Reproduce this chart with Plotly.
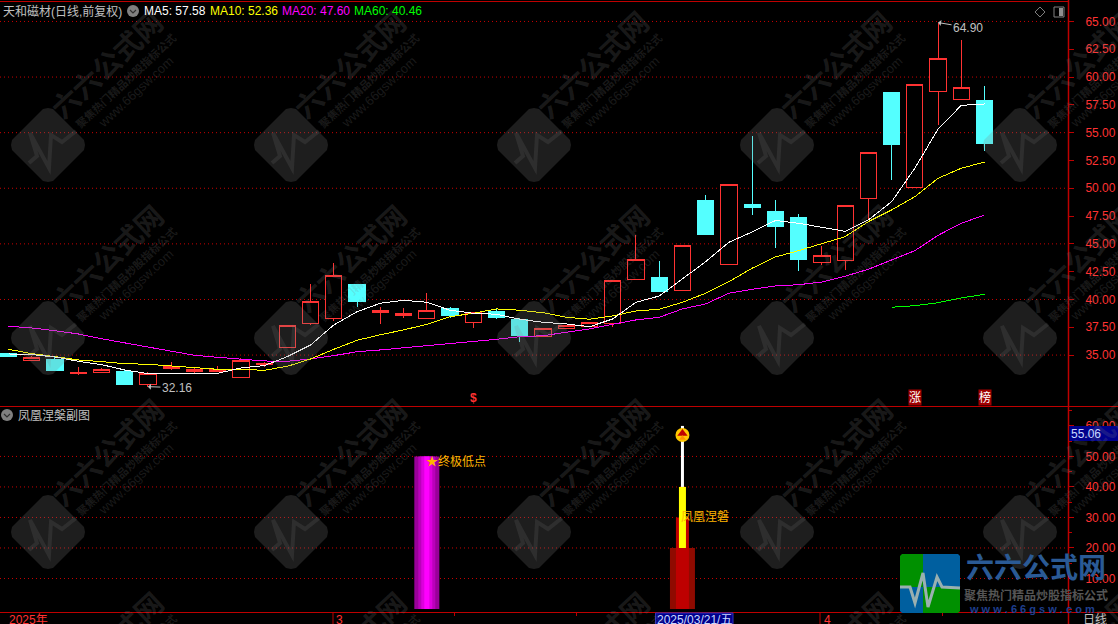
import plotly.graph_objects as go

# daily bars
CANDLE_IDX = list(range(43))
OPEN = [35.16, 34.50, 34.56, 33.38, 33.42, 33.54, 32.34, 33.75, 33.51, 33.48, 32.97, 34.11, 35.70, 37.86, 38.31,
        41.39, 38.81, 38.54, 38.27, 39.15, 37.91, 38.94, 38.16, 36.69, 37.37, 37.55, 37.82, 41.78, 42.02, 40.79,
        48.86, 43.13, 48.50, 47.87, 47.33, 43.31, 43.49, 49.06, 58.57, 50.09, 58.72, 58.00, 57.85]
HIGH = [35.16, 34.95, 34.83, 33.90, 33.84, 33.75, 33.45, 34.35, 33.81, 34.05, 34.71, 34.41, 37.68, 41.39, 43.26,
        41.39, 39.32, 39.24, 40.58, 39.32, 38.81, 39.17, 38.36, 37.41, 37.68, 37.95, 41.73, 45.80, 43.46, 44.87,
        49.40, 50.36, 54.70, 48.95, 47.69, 44.81, 48.41, 53.24, 58.57, 59.35, 64.90, 63.34, 59.20]
LOW = [34.86, 34.50, 33.57, 33.21, 33.42, 32.31, 32.16, 33.66, 33.36, 33.45, 32.97, 33.96, 35.70, 37.71, 38.09,
       39.32, 37.80, 38.36, 38.27, 38.36, 37.46, 38.25, 36.18, 36.69, 37.37, 37.55, 37.55, 41.78, 40.65, 40.79,
       45.80, 43.13, 47.60, 44.66, 42.53, 43.10, 42.65, 47.24, 50.75, 50.09, 55.70, 58.00, 53.38]
CLOSE = [34.86, 34.74, 33.57, 33.45, 33.72, 32.31, 33.36, 33.93, 33.66, 33.72, 34.53, 34.24, 37.68, 39.80, 42.18,
         39.86, 38.97, 38.76, 39.03, 38.54, 38.81, 38.34, 36.72, 37.41, 37.68, 37.95, 41.73, 43.61, 40.76, 44.87,
         45.80, 50.36, 48.23, 46.55, 43.55, 43.97, 48.41, 53.24, 53.92, 59.35, 61.65, 59.08, 54.01]

MA5 = [35.10, 35.04, 34.83, 34.44, 34.14, 33.66, 33.33, 33.36, 33.36, 33.36, 33.84, 34.05, 34.86, 35.91, 37.71,
       38.90, 39.66, 39.93, 39.75, 39.03, 38.76, 38.67, 38.22, 37.95, 37.80, 37.55, 38.25, 39.75, 40.31, 41.84,
       43.40, 45.14, 46.07, 47.10, 46.85, 46.49, 46.13, 47.15, 48.79, 51.80, 55.33, 57.46, 57.58]
MA10 = [35.52, 35.13, 34.86, 34.56, 34.41, 34.23, 34.17, 34.02, 33.87, 33.72, 33.72, 33.63, 33.99, 34.65, 35.52,
        36.33, 36.83, 37.26, 37.77, 38.45, 38.76, 39.15, 39.03, 38.81, 38.40, 38.22, 38.52, 38.97, 39.12, 39.75,
        40.56, 41.60, 42.81, 43.82, 44.39, 45.05, 45.65, 47.00, 48.05, 49.24, 50.90, 51.80, 52.36]
MA20 = [37.59, 37.44, 37.19, 36.90, 36.47, 36.11, 35.75, 35.34, 34.98, 34.80, 34.62, 34.47, 34.44, 34.65, 34.95,
        35.30, 35.46, 35.64, 35.84, 36.06, 36.24, 36.42, 36.65, 36.74, 37.05, 37.35, 37.77, 38.16, 38.40, 39.15,
        39.60, 40.56, 40.92, 41.21, 41.33, 41.57, 42.09, 42.72, 43.55, 44.39, 45.77, 46.85, 47.60]
MA60_IDX = [38, 39, 40, 41, 42]
MA60 = [39.30, 39.44, 39.71, 40.14, 40.46]

MAIN_TICKS = [35, 37.5, 40, 42.5, 45, 47.5, 50, 52.5, 55, 57.5, 60, 62.5, 65]
MAIN_GRID = [35, 40, 45, 50, 55, 60, 65]
SUB_TICKS = [10, 20, 30, 40, 50, 60]
SUB_GRID = [10, 20, 30, 40, 50]

# sub chart sticks: x index, bottom, top
LOW_STICK = [18, 0, 50]
PHOENIX_IDX = 29
PHOENIX_BOTTOM = [0, 0, 20, 40]
PHOENIX_TOP = [20, 30, 40, 60]
PHOENIX_MARK = 57

MA_LABELS = [("MA5: 57.58", "#FFFFFF", 143), ("MA10: 52.36", "#FFFF00", 209),
             ("MA20: 47.60", "#FF00FF", 281), ("MA60: 40.46", "#00FF00", 353)]

RED = "#FF3232"
LINE_RED = "#BE0000"
CYAN = "#54FFFF"
FONT = "Liberation Sans, Noto Sans CJK SC"
MARK = "rgba(128,128,128,0.2)"
PITCH = 23.24

W, H = 1118, 624
L_AXIS, T_PLOT, B_PLOT = 1068, 5, 612


def px(x):
    return x / L_AXIS


def py(y):
    return (B_PLOT - y) / (B_PLOT - T_PLOT)


def path(points, close=True):
    s = "M " + " L ".join(f"{px(x):.5f} {py(y):.5f}" for x, y in points)
    return s + (" Z" if close else "")


def rotated_square(cx, cy):
    # rounded square turned on its corner
    a = 37
    return [(cx - a + 1, cy - 5), (cx - 5, cy - a + 1), (cx, cy - a), (cx + 5, cy - a + 1),
            (cx + a - 1, cy - 5), (cx + a, cy), (cx + a - 1, cy + 5), (cx + 5, cy + a - 1), (cx, cy + a),
            (cx - 5, cy + a - 1), (cx - a + 1, cy + 5), (cx - a, cy)]


shapes = []
annotations = []


def text(x, y, s, color="#C0C0C0", size=12, anchor="left", **kw):
    annotations.append(dict(x=px(x), y=py(y), xref="paper", yref="paper", text=s, showarrow=False,
                            xanchor=anchor, yanchor="middle", font=dict(color=color, size=size, family=FONT),
                            borderpad=0, **kw))


fig = go.Figure()

fig.add_trace(go.Candlestick(
    x=CANDLE_IDX, open=OPEN, high=HIGH, low=LOW, close=CLOSE,
    increasing=dict(line=dict(color=RED, width=1), fillcolor="#000000"),
    decreasing=dict(line=dict(color=CYAN, width=1), fillcolor=CYAN),
    whiskerwidth=0, xaxis="x", yaxis="y"))

for values, color in ((MA20, "#FF00FF"), (MA10, "#FFFF00"), (MA5, "#FFFFFF")):
    fig.add_trace(go.Scatter(x=CANDLE_IDX, y=values, mode="lines", line=dict(color=color, width=1),
                             xaxis="x", yaxis="y"))
fig.add_trace(go.Scatter(x=MA60_IDX, y=MA60, mode="lines", line=dict(color="#00FF00", width=1),
                         xaxis="x", yaxis="y"))

# purple stick, nested for the gradient
for width, color in ((25, "#990099"), (17, "#BB00BB"), (11, "#DD00DD"), (5, "#FF00FF")):
    fig.add_trace(go.Bar(x=[LOW_STICK[0]], y=[LOW_STICK[2] - LOW_STICK[1]], base=[LOW_STICK[1]],
                         width=[width / PITCH], marker=dict(color=color, line=dict(width=0)),
                         xaxis="x2", yaxis="y2"))

for bottom, top, width, color in zip(PHOENIX_BOTTOM, PHOENIX_TOP, (25, 13, 7, 3),
                                     ("#8F0A00", "#BE0000", "#FFFF00", "#FFFFFF")):
    fig.add_trace(go.Bar(x=[PHOENIX_IDX], y=[top - bottom], base=[bottom], width=[width / PITCH],
                         marker=dict(color=color, line=dict(width=0)), xaxis="x2", yaxis="y2"))

fig.add_trace(go.Scatter(x=[PHOENIX_IDX], y=[PHOENIX_MARK], mode="markers",
                         marker=dict(symbol="circle", size=14, color="#FFC800"), xaxis="x2", yaxis="y2"))
fig.add_trace(go.Scatter(x=[PHOENIX_IDX], y=[PHOENIX_MARK + 0.5], mode="markers",
                         marker=dict(symbol="triangle-up", size=9, color="#C00000"), xaxis="x2", yaxis="y2"))
fig.add_trace(go.Scatter(x=[PHOENIX_IDX], y=[PHOENIX_MARK - 1], mode="markers",
                         marker=dict(symbol="triangle-up", size=6, color="#FF9000"), xaxis="x2", yaxis="y2"))

# dotted grid
dots = dict(color="#C80000", width=1, dash="1px,3px")
for v in MAIN_GRID:
    shapes.append(dict(type="line", xref="paper", yref="y", x0=0, x1=1, y0=v, y1=v, line=dots, layer="below"))
for v in SUB_GRID:
    shapes.append(dict(type="line", xref="paper", yref="y2", x0=0, x1=1, y0=v, y1=v, line=dots, layer="below"))

# frame lines
for y, x1 in ((1.5, L_AXIS), (406.5, W), (612.5, W)):
    shapes.append(dict(type="line", xref="paper", yref="paper", x0=0, x1=px(x1), y0=py(y), y1=py(y),
                       line=dict(color=LINE_RED, width=1)))
shapes.append(dict(type="line", xref="paper", yref="paper", x0=px(L_AXIS + 0.5), x1=px(L_AXIS + 0.5),
                   y0=py(0), y1=py(624), line=dict(color=LINE_RED, width=1.5)))
for x in (333, 820):
    shapes.append(dict(type="line", xref="paper", yref="paper", x0=px(x), x1=px(x), y0=py(612), y1=py(624),
                       line=dict(color=LINE_RED, width=1)))

# watermark tiles
for cx in (48, 291, 534, 777, 1020):
    for cy in (145, 338, 532, 725):
        if cy < 700:
            shapes.append(dict(type="path", xref="paper", yref="paper", path=path(rotated_square(cx, cy)),
                               fillcolor="rgba(128,128,128,0.23)", line=dict(width=0), layer="above"))
            pulse = [(-19, 18), (-11, 11), (-18, -12), (1, 23), (3, -10), (14, -3), (28, -14)]
            shapes.append(dict(type="path", xref="paper", yref="paper",
                               path=path([(cx + a, cy + b) for a, b in pulse], close=False),
                               line=dict(color="rgba(128,128,128,0.16)", width=4), layer="above"))
        text(cx + 60, cy - 79, "<b>六六公式网</b>", MARK, 28, "center", textangle=-43)
        text(cx + 78, cy - 64, "<b>聚焦热门精品炒股指标公式</b>", MARK, 11, "center", textangle=-43)
        text(cx + 87, cy - 53, "www.66gsw.com", MARK, 13, "center", textangle=-43)

# header
text(2, 11, "天和磁材(日线,前复权)")
for label, color, x in MA_LABELS:
    text(x, 11, label, color)
text(17, 415, "凤凰涅槃副图")
for cx, cy in ((133, 11), (7, 415)):
    shapes.append(dict(type="circle", xref="paper", yref="paper", x0=px(cx - 6), x1=px(cx + 6),
                       y0=py(cy - 6), y1=py(cy + 6), fillcolor="#808080", line=dict(width=0)))
    shapes.append(dict(type="path", xref="paper", yref="paper",
                       path=path([(cx - 3, cy - 1), (cx, cy + 2), (cx + 3, cy - 1)], close=False),
                       line=dict(color="#303030", width=1.2)))
shapes.append(dict(type="path", xref="paper", yref="paper",
                   path=path([(1040, 7), (1045, 12), (1040, 17), (1035, 12)]),
                   fillcolor="rgba(0,0,0,0)", line=dict(color="#808080", width=1)))
shapes.append(dict(type="rect", xref="paper", yref="paper", x0=px(1054), x1=px(1064), y0=py(7), y1=py(17),
                   fillcolor="rgba(0,0,0,0)", line=dict(color="#808080", width=1)))
shapes.append(dict(type="rect", xref="paper", yref="paper", x0=px(1059), x1=px(1063), y0=py(8), y1=py(16),
                   fillcolor="#909090", line=dict(width=0)))

# high / low notes
annotations.append(dict(x=40, y=64.9, xref="x", yref="y", text="64.90", ax=30, ay=5, axref="pixel", ayref="pixel",
                        showarrow=True, arrowcolor="#C0C0C0", arrowwidth=1, arrowhead=1, arrowsize=1,
                        font=dict(color="#C0C0C0", size=12, family=FONT)))
annotations.append(dict(x=6, y=32.16, xref="x", yref="y", text="32.16", ax=29, ay=1, axref="pixel", ayref="pixel",
                        showarrow=True, arrowcolor="#C0C0C0", arrowwidth=1, arrowhead=1, arrowsize=1,
                        font=dict(color="#C0C0C0", size=12, family=FONT)))

# event flags under the candles
annotations.append(dict(x=20, y=31.15, xref="x", yref="y", text="<b>$</b>", showarrow=False,
                        font=dict(color=RED, size=12, family=FONT)))
for idx, flag in ((39, "涨"), (42, "榜")):
    annotations.append(dict(x=idx, y=31.15, xref="x", yref="y", text=flag, showarrow=False, bgcolor="#A00000",
                            borderpad=0, font=dict(color="#FFFFFF", size=12, family=FONT)))

# sub chart signal texts
annotations.append(dict(x=18, y=48.3, xref="x2", yref="y2", text="★终极低点", showarrow=False, xanchor="left",
                        xshift=-3, yanchor="middle", font=dict(color="#FFB400", size=12, family=FONT)))
annotations.append(dict(x=29, y=30, xref="x2", yref="y2", text="凤凰涅磐", showarrow=False, xanchor="left",
                        xshift=-3, yanchor="middle", font=dict(color="#FFB400", size=12, family=FONT)))

# price tag on the sub axis
shapes.append(dict(type="rect", xref="paper", yref="paper", x0=px(1069.5), x1=px(W), y0=py(426), y1=py(441),
                   fillcolor="#00008C", line=dict(width=0), layer="above"))
text(1070, 433.5, "55.06", "#C8D8FF")

# bottom strip
text(8, 620, "2025年", RED)
text(335, 620, "3", RED)
text(823, 620, "4", RED)
shapes.append(dict(type="rect", xref="paper", yref="paper", x0=px(655.5), x1=px(733), y0=py(613), y1=py(626),
                   fillcolor="#00008C", line=dict(color="#3030C0", width=1)))
text(656, 620, "2025/03/21/五", "#C8D8FF")
text(1082, 620, "日线")

# corner logo
for corners, color in (([(902, 554), (923, 554), (923, 587), (900, 587), (900, 556)], "#009000"),
                       ([(923, 554), (958, 554), (960, 556), (960, 587), (923, 587)], "#005F9F"),
                       ([(900, 587), (923, 587), (923, 613), (902, 613), (900, 611)], "#005F9F"),
                       ([(923, 587), (960, 587), (960, 611), (958, 613), (923, 613)], "#009000")):
    shapes.append(dict(type="path", xref="paper", yref="paper", path=path(corners), fillcolor=color,
                       line=dict(width=0), layer="above"))
shapes.append(dict(type="path", xref="paper", yref="paper",
                   path=path([(900, 587), (910, 587), (915, 603), (923, 573), (928, 607), (937, 577), (942, 587),
                              (960, 588)], close=False),
                   line=dict(color="#9AB0B0", width=3), layer="above"))
text(1035.5, 568, "<b>六六公式网</b>", "#2A5A95", 28, "center")
text(1035.5, 595, "<b>聚焦热门精品炒股指标公式</b>", "#555555", 12, "center")
text(1032, 609, "<b>w w w . 6 6 g s w . c o m</b>", "#1F3F8F", 11, "center")

axis_common = dict(showgrid=False, zeroline=False, showline=True, linecolor=LINE_RED, tickcolor=LINE_RED,
                   ticks="outside", ticklen=5, side="right", tickfont=dict(color=RED, size=12, family=FONT),
                   ticklabelstandoff=9, tickformat=".2f")

fig.update_layout(
    width=W, height=H, margin=dict(l=0, r=W - L_AXIS, t=T_PLOT, b=H - B_PLOT),
    paper_bgcolor="#000000", plot_bgcolor="#000000", showlegend=False, hovermode=False, barmode="overlay",
    boxgap=0, shapes=shapes, annotations=annotations,
    xaxis=dict(domain=[0, 1], range=[-0.366, 45.59], anchor="y", showticklabels=False, showgrid=False,
               zeroline=False, ticks="", rangeslider=dict(visible=False), matches="x2"),
    xaxis2=dict(domain=[0, 1], range=[-0.366, 45.59], anchor="y2", showgrid=False, zeroline=False,
                showline=False, showticklabels=False, ticks="outside", ticklen=3, tickcolor=LINE_RED,
                tickvals=[19.2, 24.45, 29.7, 40.2]),
    yaxis=dict(domain=[py(406), 1], range=[30.42, 66.48], anchor="x", tickvals=MAIN_TICKS, **axis_common),
    yaxis2=dict(domain=[0, py(407)], range=[-0.98, 66.2], anchor="x2", tickvals=SUB_TICKS,
                minor=dict(dtick=5, ticks="outside", ticklen=3, tickcolor=LINE_RED), **axis_common),
)

# no page margin, and hard pixel edges like the terminal draws them
page_js = """document.body.style.margin='0';
var st=document.createElement('style');
st.textContent='.boxlayer path,.scatterlayer .js-line{shape-rendering:crispEdges}';
document.head.appendChild(st);"""
fig.write_html("out.html", config=dict(displayModeBar=False), post_script=page_js)
